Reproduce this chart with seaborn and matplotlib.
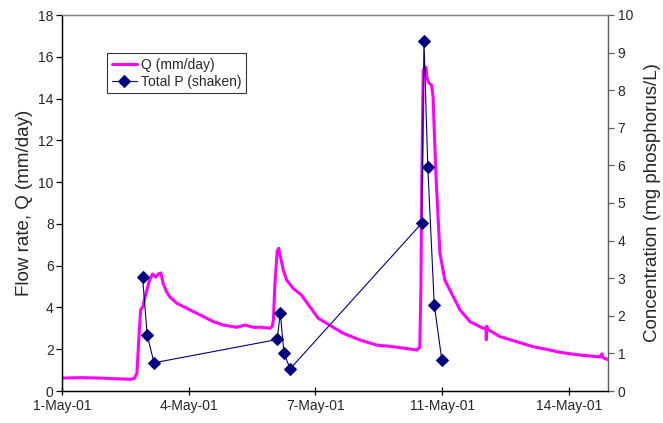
import matplotlib
matplotlib.use("Agg")
import matplotlib.pyplot as plt
import matplotlib.ticker as mticker
import matplotlib.dates as mdates
import seaborn as sns
import pandas as pd

# Flow hydrograph: time in days since 1-May-01, flow in mm/day
q_days = [0.0, 0.5, 1.0, 1.5, 1.8, 1.9, 1.97, 2.03, 2.07, 2.12, 2.2, 2.3, 2.38, 2.47,
          2.53, 2.6, 2.66, 2.75, 2.84, 3.02, 3.28, 3.63, 3.98, 4.24, 4.59, 4.7, 4.81,
          5.03, 5.25, 5.47, 5.53, 5.56, 5.6, 5.66, 5.7, 5.76, 5.82, 5.91, 6.08, 6.3,
          6.52, 6.74, 6.96, 7.4, 7.84, 8.27, 8.71, 9.15, 9.33, 9.41, 9.44, 9.46, 9.5,
          9.57, 9.6, 9.63, 9.68, 9.72, 9.76, 9.8, 9.85, 9.94, 10.07, 10.2, 10.47,
          10.73, 11.08, 11.15, 11.16, 11.17, 11.2, 11.52, 11.96, 12.39, 12.83, 13.1,
          13.62, 14.15, 14.2, 14.22, 14.36]
q_flow = [0.62, 0.64, 0.62, 0.58, 0.56, 0.6, 0.85, 2.8, 3.9, 4.0, 4.6, 5.3, 5.6, 5.45,
          5.6, 5.65, 5.15, 4.75, 4.5, 4.2, 3.96, 3.64, 3.32, 3.16, 3.05, 3.1, 3.16,
          3.05, 3.05, 3.0, 3.1, 3.4, 5.15, 6.7, 6.83, 6.3, 5.79, 5.31, 4.91, 4.59,
          4.03, 3.48, 3.24, 2.76, 2.44, 2.2, 2.12, 2.01, 1.96, 2.1, 5.0, 9.78, 15.36,
          15.5, 15.0, 14.8, 14.7, 14.64, 14.08, 12.0, 9.78, 6.59, 5.31, 4.83, 3.88,
          3.32, 3.0, 3.0, 2.45, 3.1, 2.95, 2.6, 2.36, 2.12, 1.96, 1.85,
          1.72, 1.63, 1.78, 1.6, 1.5]

# Total P samples (shaken): time in days since 1-May-01, mg phosphorus/L
p_days = [2.12, 2.24, 2.42, 5.66, 5.74, 5.84, 6.0, 9.46, 9.52, 9.62, 9.79, 9.99]
p_conc = [3.02, 1.49, 0.75, 1.37, 2.08, 1.0, 0.59, 4.46, 9.32, 5.97, 2.3, 0.82]

start = pd.Timestamp("2001-05-01")
x_span_days = 14.36
tick_step_days = 10 / 3

q_df = pd.DataFrame({"time": start + pd.to_timedelta(q_days, unit="D"),
                     "Q (mm/day)": q_flow})
p_df = pd.DataFrame({"time": start + pd.to_timedelta(p_days, unit="D"),
                     "Total P (shaken)": p_conc})

sns.set_style("white")
plt.rcParams["font.family"] = ["Liberation Sans", "DejaVu Sans"]

fig = plt.figure(figsize=(6.63, 4.23), dpi=100)
ax = fig.add_axes([62 / 663, 32 / 423, 546 / 663, 376 / 423])
ax2 = ax.twinx()

sns.lineplot(data=q_df, x="time", y="Q (mm/day)", ax=ax, color="#FF00FF",
             linewidth=2.2, label="Q (mm/day)", legend=False)
sns.lineplot(data=p_df, x="time", y="Total P (shaken)", ax=ax2, color="#000080",
             linewidth=0.8, marker="D", markersize=6, markeredgecolor="#000080",
             label="Total P (shaken)", legend=False)

ax.set_xlim(start, start + pd.Timedelta(days=x_span_days))
ax.set_ylim(0, 18)
ax2.set_ylim(0, 10)
ax.yaxis.set_major_locator(mticker.MultipleLocator(2))
ax2.yaxis.set_major_locator(mticker.MultipleLocator(1))

ticks = [start + pd.Timedelta(days=k * tick_step_days) for k in range(5)]
ax.set_xticks(ticks)
ax.xaxis.set_major_formatter(
    mticker.FuncFormatter(lambda v, pos: (lambda d: f"{d.day}-{d:%b-%y}")(mdates.num2date(v))))

ax.set_xlabel("")
ax.set_ylabel("Flow rate, Q (mm/day)", fontsize=13.5, labelpad=4)
ax2.set_ylabel("Concentration (mg phosphorus/L)", fontsize=13.5, labelpad=8)

for a in (ax, ax2):
    for s in a.spines.values():
        s.set_color("black")
        s.set_linewidth(0.9)
    a.spines["top"].set_color("#808080")
    a.spines["right"].set_color("#606060")
ax.tick_params(axis="y", direction="out", length=4, width=0.9, labelsize=10, color="black", left=True, pad=2)
ax.tick_params(axis="x", direction="inout", length=6, width=0.9, labelsize=10, color="black", bottom=True, pad=3)
ax2.tick_params(axis="y", direction="out", length=4, width=0.9, labelsize=10, color="#606060", right=True, pad=3)

h1, l1 = ax.get_legend_handles_labels()
h2, l2 = ax2.get_legend_handles_labels()
leg = ax2.legend(h1 + h2, l1 + l2, loc="upper left", bbox_to_anchor=(0.082, 0.899),
                 borderaxespad=0, fontsize=10, frameon=True, fancybox=False,
                 handlelength=1.8, handletextpad=0.3, borderpad=0.35, labelspacing=0.2)
leg.get_frame().set_edgecolor("black")
leg.get_frame().set_linewidth(0.8)

fig.savefig("out.png", dpi=100)
